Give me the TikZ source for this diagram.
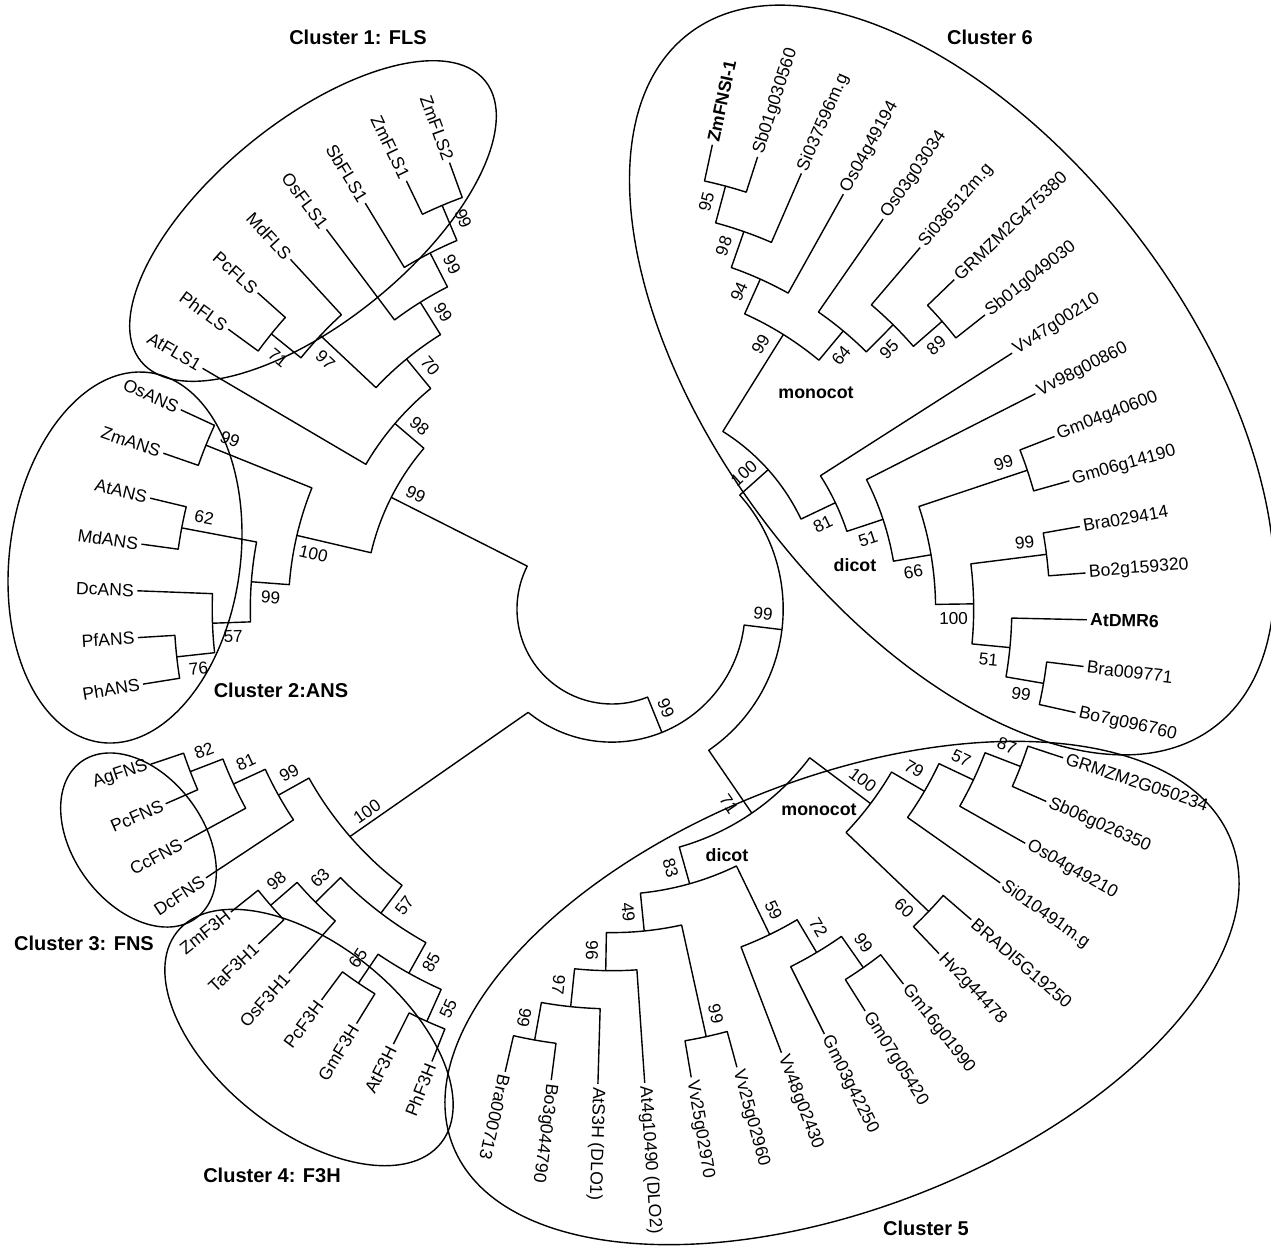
\documentclass[tikz,border=0pt]{standalone}
\usepackage{fontspec}
\setmainfont{Liberation Sans}
\usetikzlibrary{calc}
\tikzset{
  br/.style={line width=0.7pt, line join=round},
  lbl/.style={font=\fontsize{8.8}{10}\selectfont, inner sep=0.8pt},
  blbl/.style={font=\fontsize{8.8}{10}\selectfont\bfseries},
  bs/.style={font=\fontsize{8.6}{10}\selectfont, inner sep=0pt},
  ttl/.style={font=\fontsize{10}{12}\selectfont\bfseries, inner sep=0pt},
  grp/.style={font=\fontsize{8.9}{10}\selectfont\bfseries, inner sep=0pt},
  clu/.style={line width=0.7pt},
}
\newcommand\leaf[5]{%
  \pgfmathsetmacro\lfA{#2}%
  \expandafter\xdef\csname TA#1\endcsname{\lfA}%
  \expandafter\xdef\csname TR#1\endcsname{#3}%
  \pgfmathsetmacro\lfD{#3+1.5}%
  \pgfmathparse{and(\lfA>90,\lfA<252)}%
  \ifdim\pgfmathresult pt>0.5pt
    \pgfmathsetmacro\lfR{\lfA-180}%
    \node[lbl,anchor=east,rotate=\lfR,#5] (#1) at ($(O)+(\lfA:\lfD)$) {#4};%
  \else
    \node[lbl,anchor=west,rotate=\lfA,#5] (#1) at ($(O)+(\lfA:\lfD)$) {#4};%
  \fi}
\newcommand\inode[6]{%
  \edef\nA{\csname TA#3\endcsname}\edef\nB{\csname TA#4\endcsname}%
  \edef\nRa{\csname TR#3\endcsname}\edef\nRb{\csname TR#4\endcsname}%
  \pgfmathsetmacro\nM{(\nA+\nB)/2}%
  \expandafter\xdef\csname TA#1\endcsname{\nM}%
  \expandafter\xdef\csname TR#1\endcsname{#2}%
  \draw[br] ($(O)+(\nA:\nRa)$) -- ($(O)+(\nA:#2)$) arc[start angle=\nA, end angle=\nB, radius=#2] -- ($(O)+(\nB:\nRb)$);%
  \if\relax\detokenize{#5}\relax\else
    \pgfmathsetmacro\nLa{\nM+(#6)*859.4/(#2)}%
    \pgfmathsetmacro\nLr{#2-20}%
    \pgfmathparse{and(\nM>90,\nM<252)}%
    \ifdim\pgfmathresult pt>0.5pt \pgfmathsetmacro\nRot{\nM-180}\else\pgfmathsetmacro\nRot{\nM}\fi
    \node[bs,rotate=\nRot] (#1) at ($(O)+(\nLa:\nLr)$) {#5};%
  \fi}
\def\dA{5.65}
\def\dB{4.97}
\def\cA{77.8}

\begin{document}
\begin{tikzpicture}[x=0.5pt,y=0.5pt]
\useasboundingbox (0,0) rectangle (1271,-1250);
\coordinate (O) at (612,-609);

% cluster outlines
\draw[clu, rotate around={39.2:(313,-221)}] (313,-221) ellipse [x radius=222, y radius=100];
\draw[clu, rotate around={-7.5:(125,-557.5)}] (125,-557.5) ellipse [x radius=115.4, y radius=186.5];
\draw[clu, rotate around={-53.5:(138.5,-840)}] (138.5,-840) ellipse [x radius=97, y radius=65];
\draw[clu, rotate around={-38.7:(309,-1037.5)}] (309,-1037.5) ellipse [x radius=169, y radius=93];
\draw[clu, rotate around={21.4:(842,-993)}] (842,-993) ellipse [x radius=418, y radius=215];
\draw[clu, rotate around={-52.9:(952,-380)}] (952,-380) ellipse [x radius=435, y radius=235];

% leaves: FLS / ANS
\leaf{ZmFLS2}{110}{475}{ZmFLS2}{}
\leaf{ZmFLS1}{110+1*\dA}{475}{ZmFLS1}{}
\leaf{SbFLS1}{110+2*\dA}{475}{SbFLS1}{}
\leaf{OsFLS1}{110+3*\dA}{475}{OsFLS1}{}
\leaf{MdFLS}{110+4*\dA}{475}{MdFLS}{}
\leaf{PcFLS}{110+5*\dA}{475}{PcFLS}{}
\leaf{PhFLS}{110+6*\dA}{475}{PhFLS}{}
\leaf{AtFLS1}{110+7*\dA}{475}{AtFLS1}{}
\leaf{OsANS}{110+8*\dA}{475}{OsANS}{}
\leaf{ZmANS}{110+9*\dA}{475}{ZmANS}{}
\leaf{AtANS}{110+10*\dA}{475}{AtANS}{}
\leaf{MdANS}{110+11*\dA}{475}{MdANS}{}
\leaf{DcANS}{110+12*\dA}{475}{DcANS}{}
\leaf{PfANS}{110+13*\dA}{475}{PfANS}{}
\leaf{PhANS}{110+14*\dA}{475}{PhANS}{}
% leaves: FNS / F3H
\leaf{AgFNS}{198.6}{487}{AgFNS}{}
\leaf{PcFNS}{198.6+1*\dB}{487}{PcFNS}{}
\leaf{CcFNS}{198.6+2*\dB}{487}{CcFNS}{}
\leaf{DcFNS}{198.6+3*\dB}{487}{DcFNS}{}
\leaf{ZmF3H}{198.6+4*\dB}{487}{ZmF3H}{}
\leaf{TaF3H1}{198.6+5*\dB}{487}{TaF3H1}{}
\leaf{OsF3H1}{198.6+6*\dB}{487}{OsF3H1}{}
\leaf{PcF3H}{198.6+7*\dB}{487}{PcF3H}{}
\leaf{GmF3H}{198.6+8*\dB}{487}{GmF3H}{}
\leaf{AtF3H}{198.6+9*\dB}{487}{AtF3H}{}
\leaf{PhF3H}{198.6+10*\dB}{487}{PhF3H}{}
% leaves: cluster 6
\leaf{k0}{\cA-0*\dA}{475}{ZmFNSI-1}{blbl}
\leaf{k1}{\cA-1*\dA}{475}{Sb01g030560}{}
\leaf{k2}{\cA-2*\dA}{475}{Si037596m.g}{}
\leaf{k3}{\cA-3*\dA}{475}{Os04g49194}{}
\leaf{k4}{\cA-4*\dA}{475}{Os03g03034}{}
\leaf{k5}{\cA-5*\dA}{475}{Si036512m.g}{}
\leaf{k6}{\cA-6*\dA}{475}{GRMZM2G475380}{}
\leaf{k7}{\cA-7*\dA}{475}{Sb01g049030}{}
\leaf{k8}{\cA-8*\dA}{475}{Vv47g00210}{}
\leaf{k9}{\cA-9*\dA}{475}{Vv98g00860}{}
\leaf{k10}{\cA-10*\dA}{475}{Gm04g40600}{}
\leaf{k11}{\cA-11*\dA}{475}{Gm06g14190}{}
\leaf{k12}{\cA-12*\dA}{475}{Bra029414}{}
\leaf{k13}{\cA-13*\dA}{475}{Bo2g159320}{}
\leaf{k14}{\cA-14*\dA}{475}{AtDMR6}{blbl}
\leaf{k15}{\cA-15*\dA}{475}{Bra009771}{}
\leaf{k16}{\cA-16*\dA}{475}{Bo7g096760}{}
% leaves: cluster 5
\leaf{k17}{\cA-17*\dA}{475}{GRMZM2G050234}{}
\leaf{k18}{\cA-18*\dA}{475}{Sb06g026350}{}
\leaf{k19}{\cA-19*\dA}{475}{Os04g49210}{}
\leaf{k20}{\cA-20*\dA}{475}{Si010491m.g}{}
\leaf{k21}{\cA-21*\dA}{475}{BRADI5G19250}{}
\leaf{k22}{\cA-22*\dA}{475}{Hv2g44478}{}
\leaf{k23}{\cA-23*\dA}{475}{Gm16g01990}{}
\leaf{k24}{\cA-24*\dA}{475}{Gm07g05420}{}
\leaf{k25}{\cA-25*\dA}{475}{Gm03g42250}{}
\leaf{k26}{\cA-26*\dA}{475}{Vv48g02430}{}
\leaf{k27}{\cA-27*\dA}{475}{Vv25g02960}{}
\leaf{k28}{\cA-28*\dA}{475}{Vv25g02970}{}
\leaf{k29}{\cA-29*\dA}{475}{At4g10490 (DLO2)}{}
\leaf{k30}{\cA-30*\dA}{475}{AtS3H (DLO1)}{}
\leaf{k31}{\cA-31*\dA}{475}{Bo3g044790}{}
\leaf{k32}{\cA-32*\dA}{475}{Bra000713}{}

% internal nodes: FLS
\inode{c1}{437.9}{ZmFLS2}{ZmFLS1}{99}{-1}
\inode{c2}{399.8}{c1}{SbFLS1}{99}{-1}
\inode{c3}{361.7}{c2}{OsFLS1}{99}{-1}
\inode{f71}{437.9}{PcFLS}{PhFLS}{71}{1}
\inode{f97}{399.8}{MdFLS}{f71}{97}{1}
\inode{f70}{323.6}{c3}{f97}{70}{-1}
\inode{f98}{285.5}{f70}{AtFLS1}{98}{-1}
% ANS
\inode{a99}{437.9}{OsANS}{ZmANS}{99}{-1}
\inode{a62}{437.9}{AtANS}{MdANS}{62}{-1}
\inode{a76}{437.9}{PfANS}{PhANS}{76}{1}
\inode{a57}{399.8}{DcANS}{a76}{57}{1}
\inode{a99b}{361.7}{a62}{a57}{99}{1}
\inode{a100}{323.6}{a99}{a99b}{100}{1}
\inode{fa99}{247.4}{f98}{a100}{99}{-1}
% FNS / F3H
\inode{n82}{452}{AgFNS}{PcFNS}{82}{-1}
\inode{n81}{417}{n82}{CcFNS}{81}{-1}
\inode{n99}{382}{n81}{DcFNS}{99}{-1}
\inode{t98}{452}{ZmF3H}{TaF3H1}{98}{-1}
\inode{t63}{417}{t98}{OsF3H1}{63}{-1}
\inode{t65}{452}{PcF3H}{GmF3H}{65}{-1}
\inode{t55}{452}{AtF3H}{PhF3H}{55}{1}
\inode{t85}{417}{t65}{t55}{85}{1}
\inode{t57}{382}{t63}{t85}{57}{1}
\inode{nt}{347}{n99}{t57}{}{0}
% cluster 6
\inode{s95}{437.9}{k0}{k1}{95}{1}
\inode{s98}{399.8}{s95}{k2}{98}{1}
\inode{s94}{361.7}{s98}{k3}{94}{1}
\inode{s89}{437.9}{k6}{k7}{89}{-1}
\inode{s95b}{399.8}{k5}{s89}{95}{-1}
\inode{s64}{361.7}{k4}{s95b}{64}{-1}
\inode{s99}{323.6}{s94}{s64}{99}{1}
\inode{g99}{437.9}{k10}{k11}{99}{1}
\inode{b99}{437.9}{k12}{k13}{99}{1}
\inode{b99o}{437.9}{k15}{k16}{99}{-1}
\inode{d51}{399.8}{k14}{b99o}{51}{-1}
\inode{d100}{361.7}{b99}{d51}{100}{-1}
\inode{d66}{323.6}{g99}{d100}{66}{-1}
\inode{d51b}{285.5}{k9}{d66}{51}{-1}
\inode{d81}{247.4}{k8}{d51b}{81}{-1}
\inode{c6}{209.3}{s99}{d81}{100}{1}
% cluster 5
\inode{m87}{437.9}{k17}{k18}{87}{1}
\inode{m57}{399.8}{m87}{k19}{57}{1}
\inode{m79}{361.7}{m57}{k20}{79}{1}
\inode{m60}{437.9}{k21}{k22}{60}{-1}
\inode{m100}{323.6}{m79}{m60}{100}{1}
\inode{g99b}{437.9}{k23}{k24}{99}{1}
\inode{g72}{399.8}{g99b}{k25}{72}{1}
\inode{g59}{361.7}{g72}{k26}{59}{1}
\inode{v99}{437.9}{k27}{k28}{99}{1}
\inode{bb99}{437.9}{k31}{k32}{99}{-1}
\inode{bb97}{399.8}{k30}{bb99}{97}{-1}
\inode{bb96}{361.7}{k29}{bb97}{96}{-1}
\inode{e49}{323.6}{v99}{bb96}{49}{-1}
\inode{e83}{285.5}{g59}{e49}{83}{-1}
\inode{c5}{247.4}{m100}{e83}{71}{-1}
% root part
\inode{P}{171.2}{c6}{c5}{99}{1}
\def\qA{230.95}
\pgfmathsetmacro\qB{\csname TAP\endcsname+360}
\pgfmathsetmacro\qM{(\qA+\qB)/2}
\draw[br] ($(O)+(\qA:133.1)$) arc[start angle=\qA, end angle=\qB, radius=133.1] -- ($(O)+(\qB:171.2)$);
\pgfmathsetmacro\qL{\qM+859.4/133.1}
\node[bs,rotate=\qM] (lQ) at ($(O)+(\qL:113.1)$) {99};
\edef\fA{\csname TAfa99\endcsname}
\draw[br] ($(O)+(\fA:247.4)$) -- ($(O)+(\fA:95)$) arc[start angle=\fA, end angle=\qM, radius=95] -- ($(O)+(\qM:133.1)$);
\edef\ntA{\csname TAnt\endcsname}
\draw[br] ($(O)+(\ntA:347)$) -- node[bs, pos=0.13, above=2pt, sloped] (lnt) {100} ($(O)+(\qA:133.1)$);

% group labels
\node[grp] (mono6) at (816,-393) {monocot};
\node[grp] (dic6) at (855,-565) {dicot};
\node[grp] (mono5) at (819,-810) {monocot};
\node[grp] (dic5) at (727,-855) {dicot};

% cluster titles
\node[ttl] (t1) at (358,-37) {Cluster 1: FLS};
\node[ttl] (t2) at (281,-690) {Cluster 2:ANS};
\node[ttl] (t3) at (84,-943) {Cluster 3: FNS};
\node[ttl] (t4) at (272,-1175) {Cluster 4: F3H};
\node[ttl] (t5) at (926,-1228) {Cluster 5};
\node[ttl] (t6) at (990,-37) {Cluster 6};
\end{tikzpicture}
\end{document}
